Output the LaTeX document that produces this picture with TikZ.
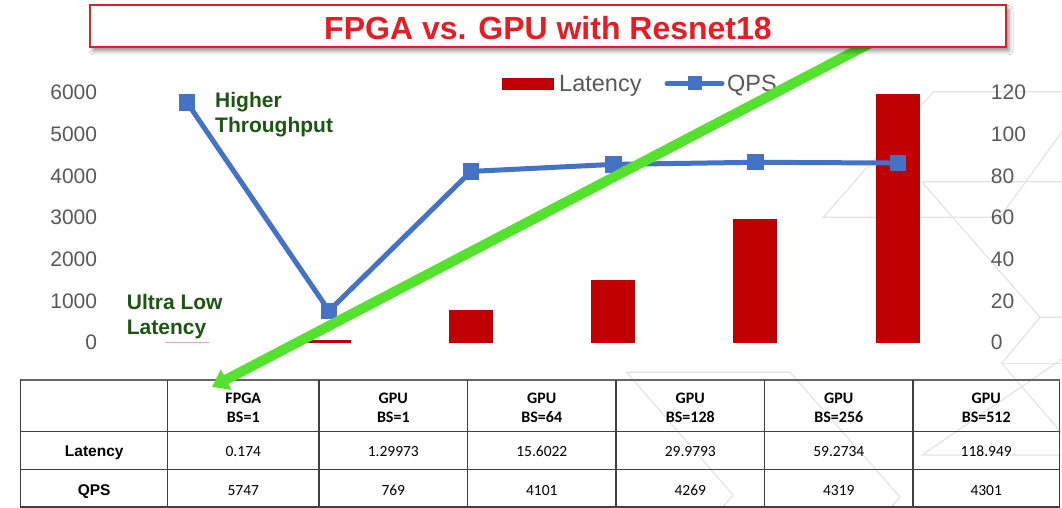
\documentclass[tikz,border=0pt]{standalone}
\usepackage{fontspec}
\setmainfont{Liberation Sans}
\newfontfamily\calib{Carlito}
\usetikzlibrary{shadows.blur,arrows.meta}

\definecolor{titlered}{RGB}{232,28,36}
\definecolor{barred}{RGB}{192,0,0}
\definecolor{qpsblue}{RGB}{68,114,196}
\definecolor{arrowgreen}{RGB}{84,226,46}
\definecolor{notegreen}{RGB}{30,84,20}
\definecolor{axisgray}{RGB}{89,89,89}
\definecolor{hexgray}{RGB}{228,228,228}
\definecolor{gridgray}{RGB}{64,64,64}

\begin{document}
\begin{tikzpicture}[x=1pt,y=-1pt,
  axislbl/.style={font=\fontsize{21}{24}\selectfont, text=axisgray, inner sep=0pt},
  legendlbl/.style={font=\fontsize{23.5}{26}\selectfont, text=axisgray, inner sep=0pt},
  note/.style={font=\bfseries\fontsize{21}{25}\selectfont, text=notegreen, inner sep=0pt, anchor=base west},
  barbox/.style={fill=barred, draw=none},
  qpsmark/.style={rectangle, fill=qpsblue, draw=none, minimum size=16pt, inner sep=0pt},
  qpsline/.style={draw=qpsblue, line width=5pt},
  hexline/.style={draw=hexgray, line width=1.2pt},
  gridline/.style={draw=gridgray, line width=1.3pt},
  cellhead/.style={font=\calib\bfseries\fontsize{16}{19}\selectfont, align=center, inner sep=0pt},
  cellval/.style={font=\calib\fontsize{15.5}{18}\selectfont, inner sep=0pt, anchor=base},
  rowhead/.style={font=\bfseries\fontsize{15.5}{18}\selectfont, inner sep=0pt, anchor=base},
  greenarrow/.style={draw=arrowgreen, line width=10pt, -{Triangle[length=16pt,width=22pt]}},
]
\useasboundingbox (0,0) rectangle (1062,508);
\fill[white] (0,0) rectangle (1062,508);

% faint hexagon ornaments in the background
\draw[hexline] (1062,91.7) -- (933.3,91.7) -- (823.3,217.3) -- (1000,217.3) -- (1062,131.7);
\draw[hexline] (1062,181.7) -- (921.7,181.7) -- (1040,317.3) -- (1062,317.3);
\draw[hexline] (1040,317.3) -- (1001.7,363.3) -- (1062,433.3);
\draw[hexline] (1001.7,363.3) -- (1062,363.3);
\draw[hexline] (1062,359) -- (922,455) -- (1062,455);
\draw[hexline] (722,508) -- (733,495) -- (626.7,372.3) -- (790,372.3) -- (900,497) -- (890,508);

% left axis (QPS)
\foreach \v/\yy in {0/342.7,1000/301,2000/259.3,3000/217.6,4000/175.9,5000/134.2,6000/92.5}
  \node[axislbl, anchor=east] (ql\v) at (97.3,\yy) {\v};
% right axis (latency)
\foreach \v/\yy in {0/342.7,20/301,40/259.3,60/217.6,80/175.9,100/134.2,120/92.5}
  \node[axislbl, anchor=west] (lr\v) at (990.7,\yy) {\v};

% latency bars (the FPGA bar is almost flat, so it only shows as a faint line)
\fill[barbox, fill opacity=0.35] (165,343) rectangle (209,{343-2.0917*0.174-0.4});
\foreach \n/\cx/\lat in {g1/329/1.29973, g64/471/15.6022,
                         g128/613.4/29.9793, g256/755.3/59.2734, g512/897.8/118.949}
  \fill[barbox] ({\cx-22},343) rectangle ({\cx+22},{343-2.0917*\lat});

% QPS series
\node[qpsmark] (qfpga) at (187,{343-0.041833*5747}) {};
\node[qpsmark] (qg1)   at (329,{343-0.041833*769}) {};
\node[qpsmark] (qg64)  at (471,{343-0.041833*4101}) {};
\node[qpsmark] (qg128) at (613.4,{343-0.041833*4269}) {};
\node[qpsmark] (qg256) at (755.3,{343-0.041833*4319}) {};
\node[qpsmark] (qg512) at (897.8,{343-0.041833*4301}) {};
\draw[qpsline, line join=round] (qfpga.center) -- (qg1.center) -- (qg64.center) -- (qg128.center)
  -- (qg256.center) -- (qg512.center);
\foreach \m in {qfpga,qg1,qg64,qg128,qg256,qg512}
  \fill[qpsblue] (\m.south west) rectangle (\m.north east);

% legend
\node[barbox, minimum width=52pt, minimum height=12pt, inner sep=0pt] (legbar) at (528,84) {};
\node[legendlbl, anchor=base west] (leglat) at (559,91.5) {Latency};
\coordinate (legqa) at (667,83.5);
\coordinate (legqb) at (722,83.5);
\draw[qpsline, line cap=round] (legqa) -- (legqb);
\node[qpsmark, minimum size=14pt] (legmark) at (695,83.5) {};
\node[legendlbl, anchor=base west] (legqps) at (727,91.5) {QPS};

% annotations
\node[note] (hi1) at (215,107.7) {Higher};
\node[note] (hi2) at (215,132.7) {Throughput};
\node[note] (lo1) at (126.7,309) {Ultra Low};
\node[note] (lo2) at (126.7,334) {Latency};

% data table
\draw[gridline] (20.7,380) rectangle (1059.5,507);
\draw[draw=gray!80!black, line width=2pt] (20.7,380) -- (1059.5,380);
\foreach \xx in {167.7,319,467.6,616,764.7,913}
  \draw[gridline] (\xx,380) -- (\xx,507);
\foreach \yy in {431.5,469.8}
  \draw[gridline] (20.7,\yy) -- (1059.5,\yy);

\node[cellhead] (hfpga) at (243.3,408) {FPGA\\BS=1};
\node[cellhead] (hg1)   at (393.3,408) {GPU\\BS=1};
\node[cellhead] (hg64)  at (541.8,408) {GPU\\BS=64};
\node[cellhead] (hg128) at (690.3,408) {GPU\\BS=128};
\node[cellhead] (hg256) at (838.8,408) {GPU\\BS=256};
\node[cellhead] (hg512) at (986.2,408) {GPU\\BS=512};

\node[rowhead] (rlat) at (94.2,456.7) {Latency};
\node[rowhead] (rqps) at (94.2,495) {QPS};

\foreach \n/\cx/\lv/\qv in {fpga/243.3/0.174/5747, g1/393.3/1.29973/769, g64/541.8/15.6022/4101,
                            g128/690.3/29.9793/4269, g256/838.8/59.2734/4319, g512/986.2/118.949/4301}{
  \node[cellval] (lat\n) at (\cx,456.7) {\lv};
  \node[cellval] (qps\n) at (\cx,495) {\qv};
}

% green trend arrow, running beneath the title box
\coordinate (arrowstart) at (884,36);
\coordinate (arrowtip) at (212,387);
\draw[greenarrow] (arrowstart) -- (arrowtip);

% title
\node[draw=titlered, line width=2pt, fill=white, minimum width=916pt, minimum height=41.5pt,
      inner sep=0pt, blur shadow={shadow xshift=3pt, shadow yshift=-4pt, shadow blur radius=4pt, shadow opacity=45}]
      (titlebox) at (548,26.2) {};
\node[font=\bfseries\fontsize{32}{38}\selectfont, text=titlered, inner sep=0pt] (title) at (548,28.5)
      {FPGA vs. GPU with Resnet18};
\end{tikzpicture}
\end{document}
